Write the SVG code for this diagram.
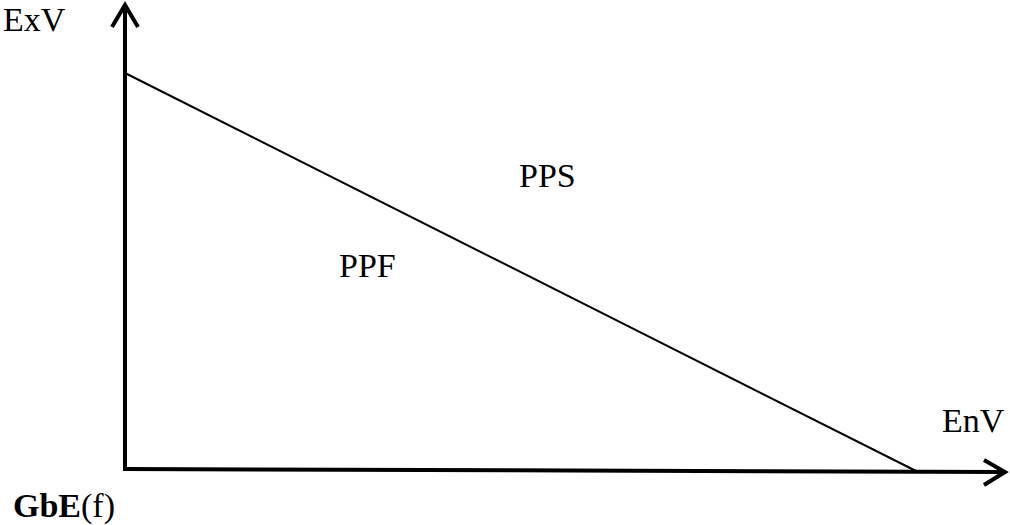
<svg xmlns="http://www.w3.org/2000/svg" width="1010" height="525" viewBox="0 0 1010 525">
<style>
.t{font-family:"Liberation Serif","Times New Roman",serif;font-size:34px;fill:#000}
.ax{stroke:#000;stroke-width:4;fill:none;stroke-linecap:butt}
.ah{stroke:#000;stroke-width:4;fill:none;stroke-linejoin:miter}
</style>
<rect width="1010" height="525" fill="#fff"/>
<g id="connectors">
<line class="ax" x1="125" y1="6" x2="125" y2="471"/>
<polyline class="ah" points="112,27 125,5 138,27"/>
<line class="ax" x1="123" y1="469" x2="1004" y2="472"/>
<polyline class="ah" points="984,460 1005,472 984,485"/>
<line x1="125" y1="73" x2="918" y2="472" stroke="#000" stroke-width="2"/>
</g>
<g id="ExV"><text class="t" x="3" y="31">ExV</text></g>
<g id="EnV"><text class="t" x="942" y="432">EnV</text></g>
<g id="PPS"><text class="t" x="519" y="187">PPS</text></g>
<g id="PPF"><text class="t" x="339" y="277">PPF</text></g>
<g id="GbE"><text class="t" x="13" y="517"><tspan font-weight="bold">GbE</tspan>(f)</text></g>
</svg>
